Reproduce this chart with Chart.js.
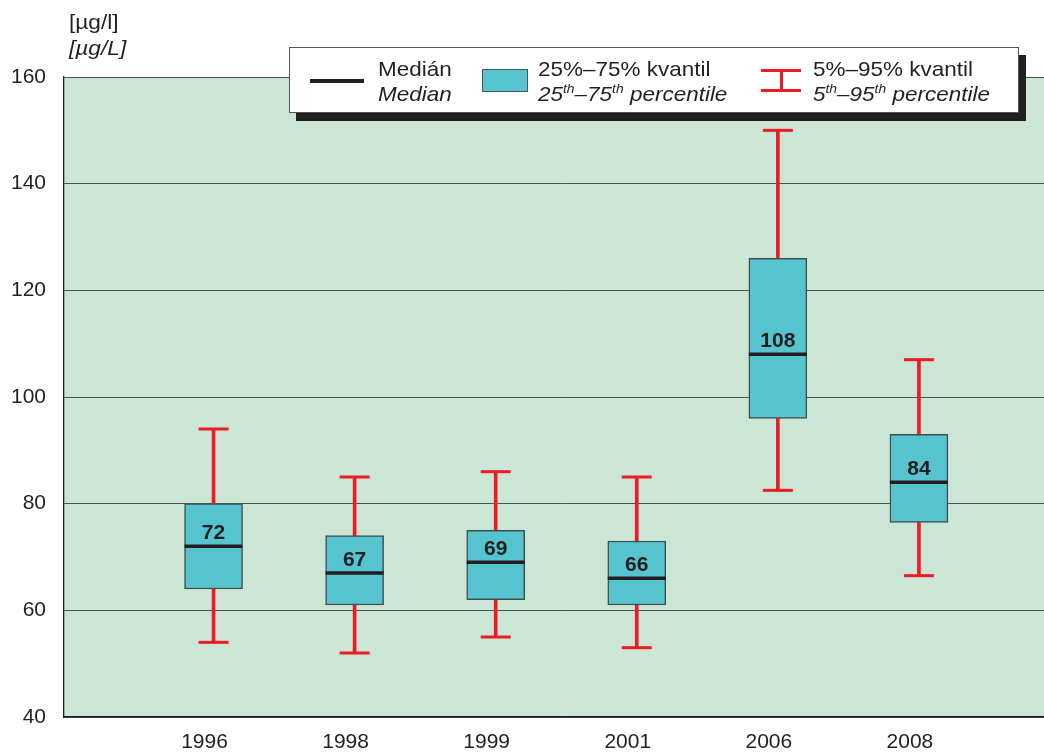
<!DOCTYPE html>
<html>
<head>
<meta charset="utf-8">
<script src="https://cdn.jsdelivr.net/npm/chart.js@4"></script>
<style>
  html, body { margin: 0; padding: 0; background: #fff; overflow: hidden; }
  body { width: 1044px; height: 752px; position: relative; font-family: "Liberation Sans", Arial, sans-serif; color: #231f20; }
  #wrap { position: absolute; left: 0; top: 0; width: 1060px; height: 752px; }
  .unit { position: absolute; left: 69px; font-size: 21px; line-height: 26px; transform: scaleX(1.08); transform-origin: left; }
  #legend { position: absolute; left: 289px; top: 47px; width: 728px; height: 64px; background: #fff;
            border: 1px solid #555; box-shadow: 7px 8px 0 #231f20; }
  #legend .txt { position: absolute; top: 8px; font-size: 21px; line-height: 25px; white-space: nowrap;
                 transform: scaleX(1.07); transform-origin: left; }
  #legend i { font-style: italic; }
  #legend sup { font-size: 13px; vertical-align: 0; position: relative; top: -8px; }
  .lg-med { position: absolute; left: 20px; top: 31px; width: 54px; height: 4px; background: #231f20; }
  .lg-box { position: absolute; left: 192px; top: 21px; width: 44px; height: 21px; background: #55c4cf; border: 1px solid #4a5858; }
  .lg-red { position: absolute; background: #ed1c24; }
</style>
</head>
<body>
<div id="wrap"><canvas id="chart" width="1060" height="752"></canvas></div>

<div class="unit" style="top:9px">[µg/l]</div>
<div class="unit" style="top:35px"><i>[µg/L]</i></div>

<div id="legend">
  <div class="lg-med"></div>
  <div class="txt" style="left:88px">Medián<br><i>Median</i></div>
  <div class="lg-box"></div>
  <div class="txt" style="left:248px">25%–75% kvantil<br><i>25<sup>th</sup>–75<sup>th</sup> percentile</i></div>
  <div class="lg-red" style="left:471px; top:21px; width:40px; height:3px"></div>
  <div class="lg-red" style="left:471px; top:41px; width:40px; height:3px"></div>
  <div class="lg-red" style="left:490px; top:21px; width:3px; height:23px"></div>
  <div class="txt" style="left:523px">5%–95% kvantil<br><i>5<sup>th</sup>–95<sup>th</sup> percentile</i></div>
</div>

<script>
// categories and values (µg/l)
const years = ['1996', '1998', '1999', '2001', '2006', '2008'];
const p5  = [54, 52, 55, 53, 82.5, 66.5];
const q25 = [64, 61, 62, 61, 96, 76.5];
const med = [72, 67, 69, 66, 108, 84];
const q75 = [80, 74, 75, 73, 126, 93];
const p95 = [94, 85, 86, 85, 150, 107];
const yTicks = [40, 60, 80, 100, 120, 140, 160];

const DARK = '#231f20';
const RED = '#ed1c24';
const CYAN = '#55c4cf';

const pos = (i) => i + 1;

// green plot background
const plotBg = {
  id: 'plotBg',
  beforeDraw(chart) {
    const { ctx, chartArea: a } = chart;
    ctx.save();
    ctx.fillStyle = '#cce6d5';
    ctx.fillRect(a.left, a.top, a.right - a.left, a.bottom - a.top);
    ctx.restore();
  }
};

// median values written above the median line
const medianLabels = {
  id: 'medianLabels',
  afterDatasetsDraw(chart) {
    const { ctx, scales } = chart;
    ctx.save();
    ctx.font = 'bold 21px "Liberation Sans", Arial, sans-serif';
    ctx.fillStyle = DARK;
    ctx.textAlign = 'center';
    ctx.textBaseline = 'alphabetic';
    med.forEach((v, i) => {
      const x = scales.x.getPixelForValue(pos(i));
      const y = scales.y.getPixelForValue(v);
      ctx.fillText(String(v), x, y - 7);
    });
    ctx.restore();
  }
};

new Chart(document.getElementById('chart'), {
  type: 'bar',
  data: {
    datasets: [
      {
        label: 'whisker',
        data: years.map((_, i) => ({ x: pos(i), y: [p5[i], p95[i]] })),
        backgroundColor: RED,
        barThickness: 3,
        grouped: false,
        order: 4
      },
      {
        label: 'box',
        data: years.map((_, i) => ({ x: pos(i), y: [q25[i], q75[i]] })),
        backgroundColor: CYAN,
        borderColor: '#3f4e4e',
        borderWidth: 1.5,
        borderSkipped: false,
        barThickness: 58,
        grouped: false,
        order: 3
      },
      {
        type: 'line',
        label: 'median',
        data: years.map((_, i) => ({ x: pos(i), y: med[i] })),
        showLine: false,
        pointStyle: 'line',
        pointRadius: 29,
        pointHoverRadius: 29,
        pointBorderWidth: 3.5,
        pointBorderColor: DARK,
        borderColor: DARK,
        order: 1
      },
      {
        type: 'line',
        label: 'p95',
        data: years.map((_, i) => ({ x: pos(i), y: p95[i] })),
        showLine: false,
        pointStyle: 'line',
        pointRadius: 15,
        pointHoverRadius: 15,
        pointBorderWidth: 3,
        pointBorderColor: RED,
        borderColor: RED,
        order: 2
      },
      {
        type: 'line',
        label: 'p5',
        data: years.map((_, i) => ({ x: pos(i), y: p5[i] })),
        showLine: false,
        pointStyle: 'line',
        pointRadius: 15,
        pointHoverRadius: 15,
        pointBorderWidth: 3,
        pointBorderColor: RED,
        borderColor: RED,
        order: 2
      }
    ]
  },
  options: {
    responsive: false,
    animation: false,
    devicePixelRatio: 1,
    layout: { autoPadding: false, padding: { top: 77, left: 0, right: 0, bottom: 0 } },
    plugins: {
      legend: { display: false },
      tooltip: { enabled: false }
    },
    scales: {
      x: {
        type: 'linear',
        offset: false,
        min: -0.06,
        max: 7,
        afterBuildTicks: (scale) => { scale.ticks = years.map((_, i) => ({ value: pos(i) })); },
        afterFit: (scale) => { scale.height = 35; },
        grid: { display: false, drawTicks: false },
        border: { display: true, color: DARK, width: 1.5 },
        ticks: {
          callback: (v) => years[v - 1],
          color: DARK,
          font: { family: '"Liberation Sans", Arial, sans-serif', size: 21 },
          padding: 13,
          labelOffset: -9,
          maxRotation: 0,
          autoSkip: false
        }
      },
      y: {
        min: 40,
        max: 160,
        afterBuildTicks: (scale) => { scale.ticks = yTicks.map(v => ({ value: v })); },
        afterFit: (scale) => { scale.width = 64; },
        grid: { color: '#4d5450', lineWidth: 1, drawTicks: false },
        border: { display: true, color: DARK, width: 1.3 },
        ticks: {
          color: DARK,
          font: { family: '"Liberation Sans", Arial, sans-serif', size: 21 },
          padding: 18
        }
      }
    }
  },
  plugins: [plotBg, medianLabels]
});
</script>
</body>
</html>
